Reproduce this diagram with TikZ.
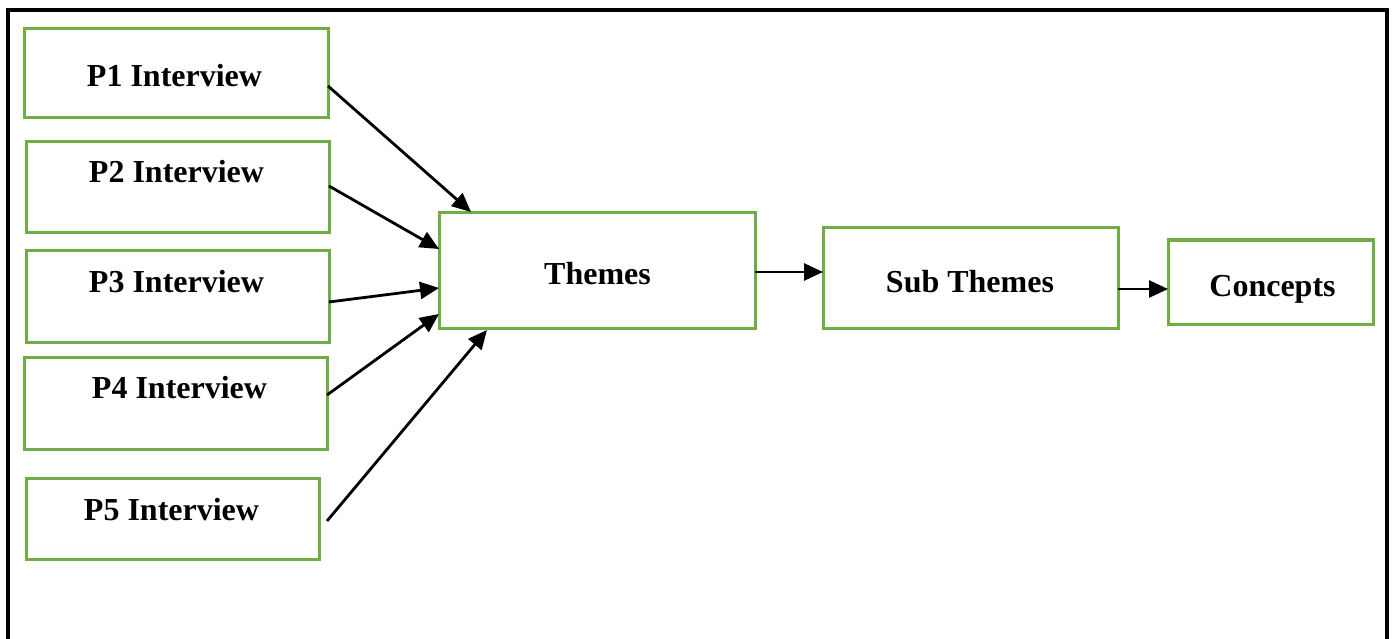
\documentclass[tikz,border=0pt]{standalone}
\usepackage{fontspec}
\setmainfont{Liberation Serif}
\usetikzlibrary{arrows.meta}
\definecolor{boxgreen}{RGB}{112,173,71}
\tikzset{
  gbox/.style={draw=boxgreen, line width=3pt, inner sep=0pt, outer sep=0pt, rectangle},
  lbl/.style={inner sep=0pt, anchor=base, font=\fontsize{32}{38}\selectfont\bfseries},
  conn/.style={line width=2.8pt, -{Triangle[length=19pt,width=17pt]}},
  frame/.style={line width=3.5pt}
}
\begin{document}
\begin{tikzpicture}[x=1pt,y=-1pt]
\useasboundingbox (0,0) rectangle (1392,639);
\draw[frame] (8,640) -- (8,10) -- (1387,10) -- (1387,640);
% boxes
\node[gbox, minimum width=304pt, minimum height=89pt] (p1) at (176,73.5) {};
\node[gbox, minimum width=303pt, minimum height=91pt] (p2) at (177.5,187.5) {};
\node[gbox, minimum width=303pt, minimum height=92pt] (p3) at (177.5,296) {};
\node[gbox, minimum width=303pt, minimum height=92pt] (p4) at (175.5,403) {};
\node[gbox, minimum width=293pt, minimum height=81pt] (p5) at (172.5,518.5) {};
\node[gbox, minimum width=316pt, minimum height=115pt] (th) at (597,270.5) {};
\node[gbox, minimum width=295pt, minimum height=100pt] (st) at (970.5,278) {};
\node[gbox, minimum width=205pt, minimum height=84pt] (co) at (1270.5,282) {};
% labels
\node[lbl] (t1) at (174.5,87) {P1 Interview};
\node[lbl] (t2) at (176.5,183) {P2 Interview};
\node[lbl] (t3) at (176.5,292) {P3 Interview};
\node[lbl] (t4) at (179.5,398) {P4 Interview};
\node[lbl] (t5) at (171.5,520) {P5 Interview};
\node[lbl] (tt) at (597.5,284) {Themes};
\node[lbl] (ts) at (970,292) {Sub Themes};
\node[lbl] (tc) at (1272.5,296) {Concepts};
% connectors
\draw[conn] ([yshift=-12.5pt]p1.east) -- ([xshift=32pt,yshift=1pt]th.north west);
\draw[conn] ([yshift=1.5pt]p2.east) -- ([yshift=-36pt]th.north west);
\draw[conn] ([yshift=-6pt]p3.east) -- ([yshift=-17.5pt]th.west);
\draw[conn] ([yshift=8pt]p4.east) -- ([yshift=14pt]th.south west);
\draw[conn] ([xshift=8pt,yshift=-2.5pt]p5.east) -- ([xshift=48pt,yshift=-2pt]th.south west);
\draw[conn] ([yshift=-1.5pt]th.east) -- ([yshift=6pt]st.west);
\draw[conn] ([yshift=-11pt]st.east) -- ([yshift=-7pt]co.west);
\end{tikzpicture}
\end{document}
